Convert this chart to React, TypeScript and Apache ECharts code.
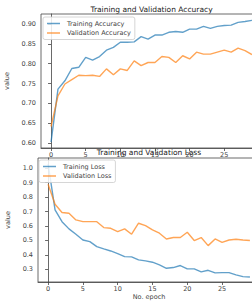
import React, { useEffect, useRef } from "react";
import * as echarts from "echarts";

const epochs = Array.from({ length: 30 }, (_, i) => i);

const trainAcc = [0.603, 0.736, 0.757, 0.788, 0.791, 0.816, 0.809, 0.818, 0.834, 0.841, 0.854, 0.854, 0.855, 0.868, 0.862, 0.872, 0.872, 0.879, 0.881, 0.879, 0.887, 0.887, 0.894, 0.889, 0.894, 0.896, 0.897, 0.904, 0.906, 0.909];
const valAcc = [0.642, 0.719, 0.749, 0.76, 0.771, 0.77, 0.771, 0.768, 0.787, 0.772, 0.787, 0.783, 0.807, 0.795, 0.803, 0.803, 0.818, 0.816, 0.803, 0.82, 0.812, 0.829, 0.824, 0.824, 0.829, 0.834, 0.829, 0.839, 0.833, 0.823];
const trainLoss = [1.03, 0.711, 0.63, 0.58, 0.543, 0.503, 0.492, 0.457, 0.441, 0.427, 0.409, 0.388, 0.386, 0.365, 0.358, 0.349, 0.33, 0.307, 0.312, 0.326, 0.303, 0.303, 0.282, 0.293, 0.275, 0.277, 0.277, 0.261, 0.249, 0.247];
const valLoss = [0.889, 0.751, 0.693, 0.688, 0.642, 0.63, 0.63, 0.63, 0.589, 0.584, 0.561, 0.58, 0.543, 0.619, 0.603, 0.573, 0.55, 0.51, 0.52, 0.52, 0.557, 0.499, 0.52, 0.464, 0.51, 0.487, 0.503, 0.508, 0.503, 0.499];

const xTicks = [0, 5, 10, 15, 20, 25];
const accTicks = [0.6, 0.65, 0.7, 0.75, 0.8, 0.85, 0.9];
const lossTicks = [0.3, 0.4, 0.5, 0.6, 0.7, 0.8, 0.9, 1.0];

const FONT = "DejaVu Sans";
const BLUE = "#1f77b4";
const ORANGE = "#ff7f0e";
const AX = "#444";

function pairs(ys: number[]) {
  return epochs.map((e, i) => [e, ys[i]]);
}

export default function App() {
  const ref = useRef<HTMLDivElement>(null);
  useEffect(() => {
    if (!ref.current) return;
    const chart = echarts.init(ref.current, undefined, { renderer: "svg" });
    const xAxisBase = (gridIndex: number, withName: boolean) => ({
      type: "value",
      gridIndex,
      min: -1.45,
      max: 30.45,
      axisLine: { show: true, onZero: false, lineStyle: { color: AX, width: 0.8 } },
      axisTick: { show: true, length: 3, customValues: xTicks, lineStyle: { color: AX, width: 0.8 } },
      axisLabel: { customValues: xTicks, fontSize: 6.5, color: AX, fontFamily: FONT, margin: 3 },
      splitLine: { show: false },
      name: withName ? "No. epoch" : "",
      nameLocation: "middle",
      nameGap: 11,
      nameTextStyle: { fontSize: 6.5, color: AX, fontFamily: FONT },
    });
    const yAxisBase = (gridIndex: number, min: number, max: number, ticks: number[], dec: number, gap: number) => ({
      type: "value",
      gridIndex,
      min,
      max,
      axisLine: { show: true, lineStyle: { color: AX, width: 0.8 } },
      axisTick: { show: true, length: 3, customValues: ticks, lineStyle: { color: AX, width: 0.8 } },
      axisLabel: {
        customValues: ticks,
        fontSize: 6.5,
        color: AX,
        fontFamily: FONT,
        margin: 5,
        formatter: (v: number) => v.toFixed(dec),
      },
      splitLine: { show: false },
      name: "value",
      nameLocation: "middle",
      nameGap: gap,
      nameTextStyle: { fontSize: 6.5, color: AX, fontFamily: FONT },
    });
    const legendBase = (left: number, top: number, names: string[]) => ({
      data: names,
      orient: "vertical",
      left,
      top,
      icon: "rect",
      itemWidth: 13,
      itemHeight: 1.5,
      itemGap: 2.5,
      padding: [3, 4, 3, 4],
      backgroundColor: "rgba(255,255,255,0.85)",
      borderColor: "#ccc",
      borderWidth: 0.8,
      borderRadius: 2,
      textStyle: { fontSize: 6.5, color: AX, fontFamily: FONT, padding: [0, 0, 0, 2] },
      selectedMode: false,
    });
    const line = (name: string, ys: number[], color: string, idx: number) => ({
      name,
      type: "line",
      xAxisIndex: idx,
      yAxisIndex: idx,
      data: pairs(ys),
      showSymbol: false,
      symbol: "none",
      color,
      itemStyle: { color, opacity: 0.7 },
      lineStyle: { color, width: 1.4, opacity: 0.7 },
    });
    chart.setOption({
      animation: false,
      backgroundColor: "#fff",
      grid: [
        { left: 41, top: 14, width: 221, height: 134, show: true, borderColor: AX, borderWidth: 0.8, backgroundColor: "transparent", outerBoundsMode: "none", containLabel: false },
        { left: 38, top: 158, width: 222, height: 124, show: true, borderColor: AX, borderWidth: 0.8, backgroundColor: "transparent", outerBoundsMode: "none", containLabel: false },
      ],
      xAxis: [xAxisBase(0, false), xAxisBase(1, true)],
      yAxis: [
        yAxisBase(0, 0.588, 0.925, accTicks, 2, 26),
        yAxisBase(1, 0.212, 1.071, lossTicks, 1, 24),
      ],
      legend: [
        legendBase(43, 17, ["Training Accuracy", "Validation Accuracy"]),
        legendBase(39, 160, ["Training Loss", "Validation Loss"]),
      ],
      series: [
        line("Training Accuracy", trainAcc, BLUE, 0),
        line("Validation Accuracy", valAcc, ORANGE, 0),
        line("Training Loss", trainLoss, BLUE, 1),
        line("Validation Loss", valLoss, ORANGE, 1),
      ],
      graphic: [
        {
          type: "text",
          x: 151.5,
          y: 9,
          style: { text: "Training and Validation Accuracy", fontSize: 7.5, fill: "#222", fontFamily: FONT, align: "center", verticalAlign: "middle" },
        },
        {
          type: "text",
          x: 149,
          y: 152,
          style: { text: "Training and Validation Loss", fontSize: 7.5, fill: "#222", fontFamily: FONT, align: "center", verticalAlign: "middle" },
        },
      ],
    });
    return () => chart.dispose();
  }, []);
  return (
    <div
      ref={ref}
      style={{ position: "fixed", left: 0, top: 0, width: 252, height: 305, overflow: "hidden" }}
    />
  );
}
